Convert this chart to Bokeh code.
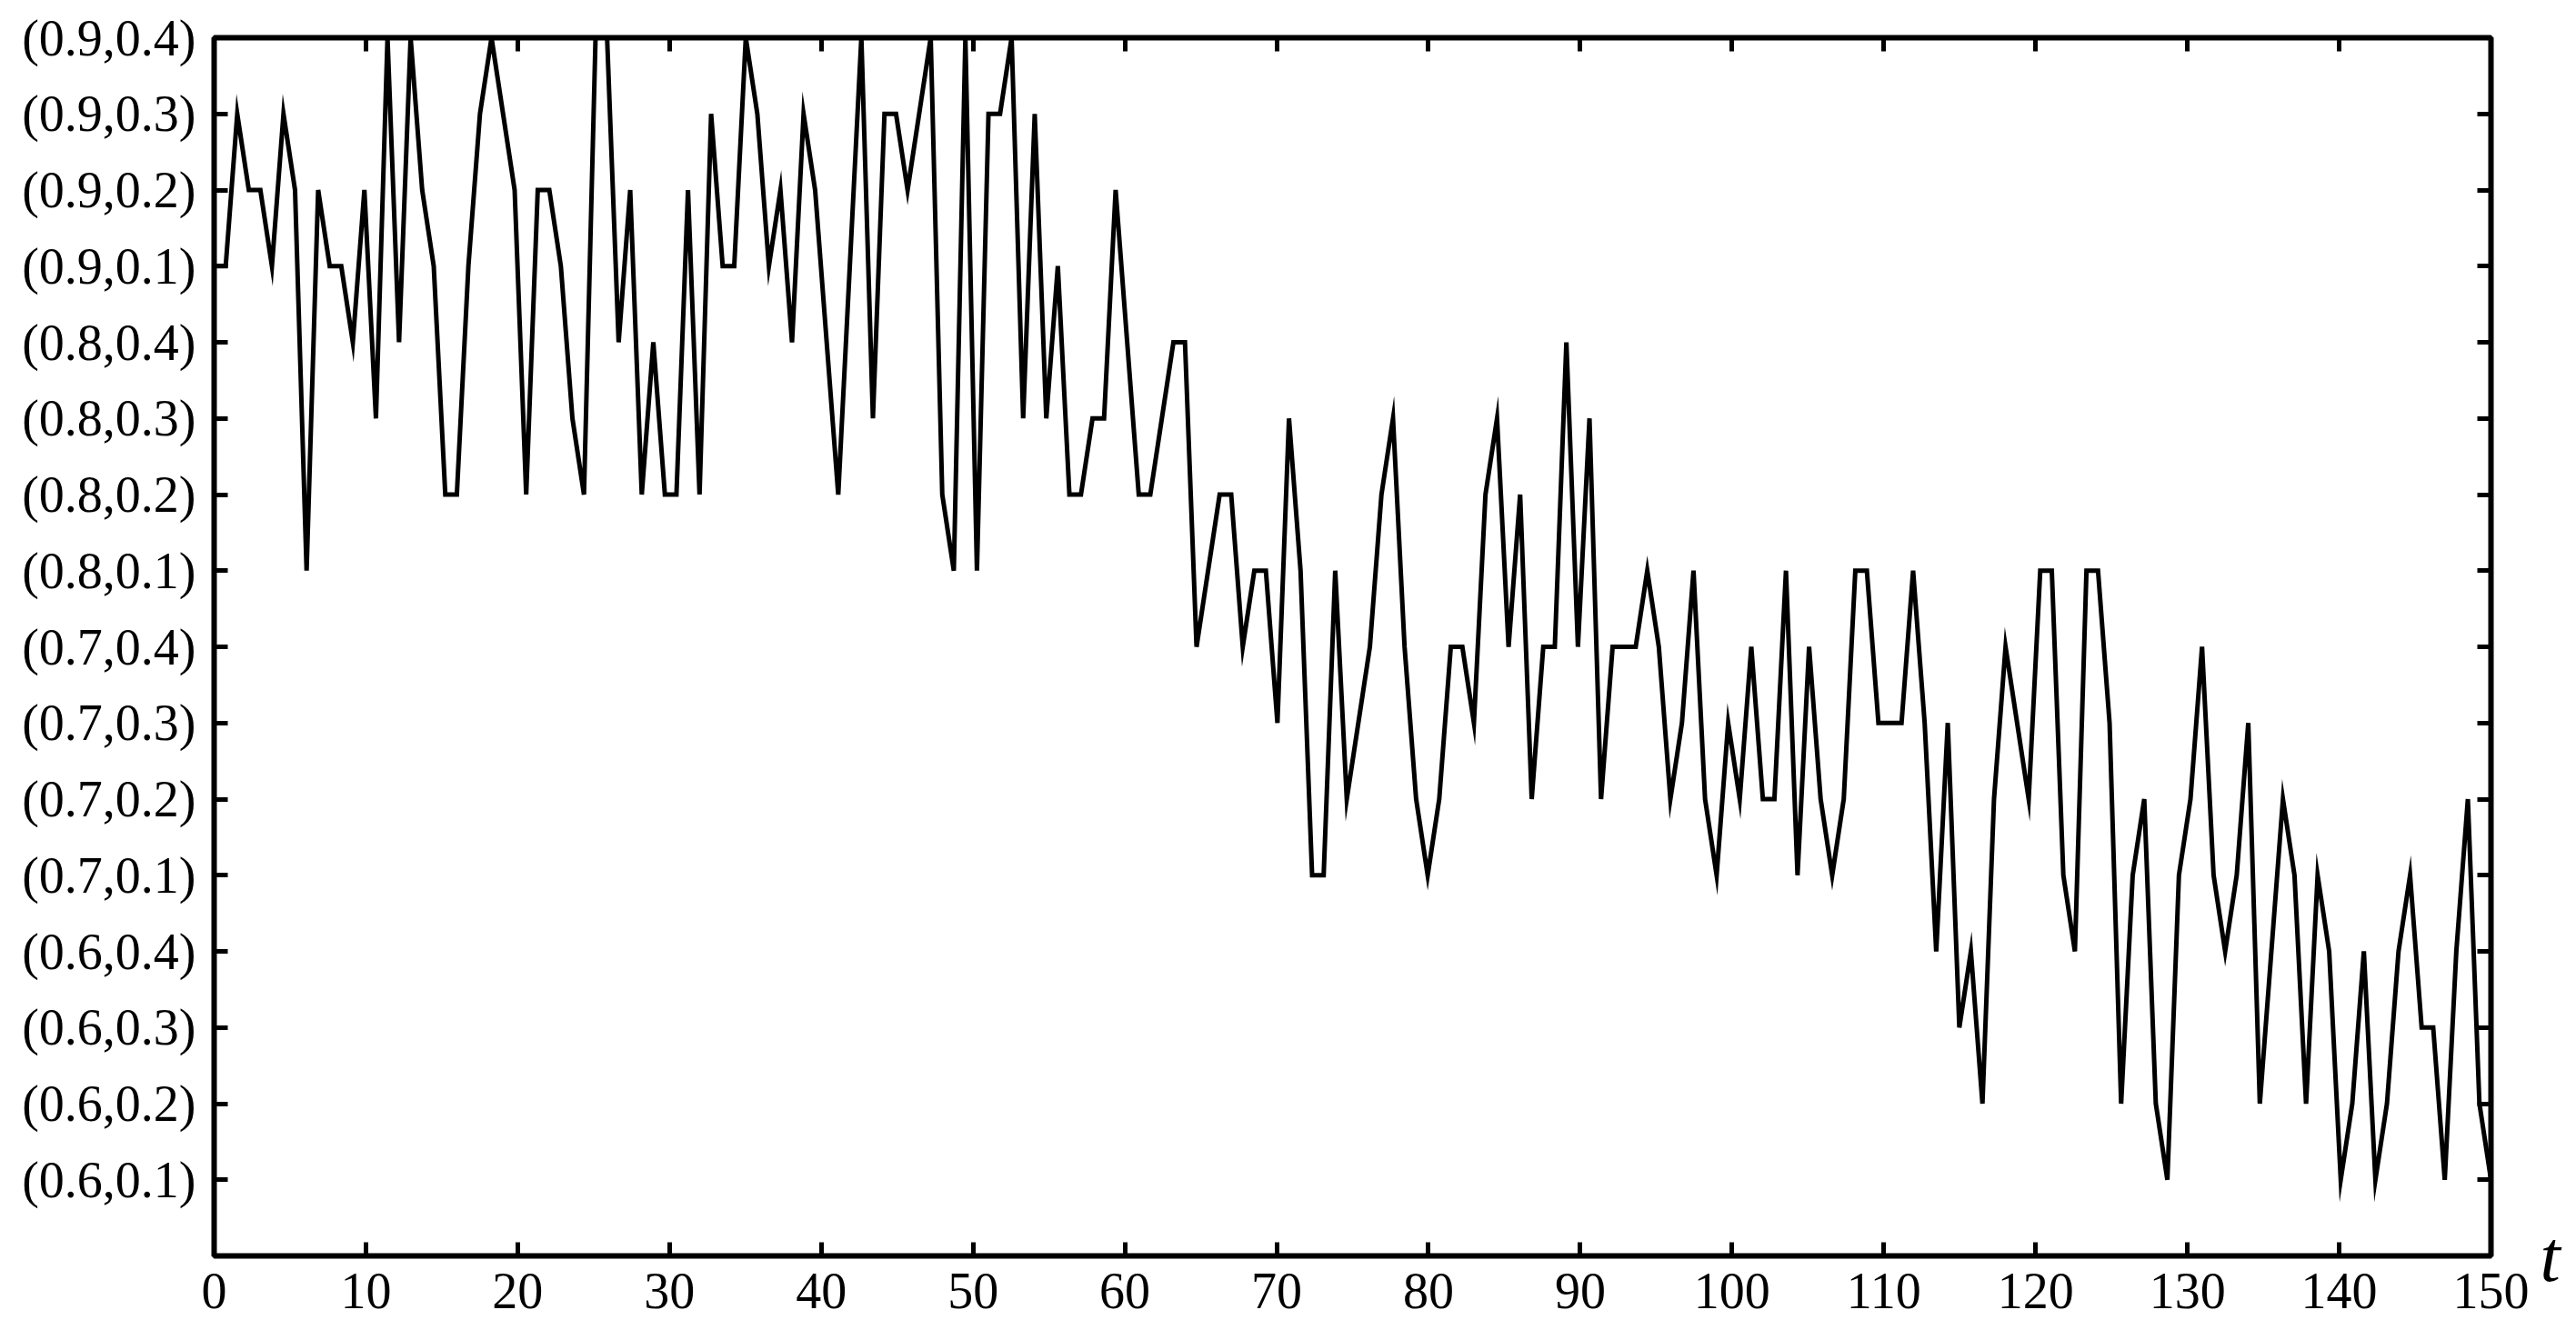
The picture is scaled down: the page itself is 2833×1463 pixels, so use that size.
from bokeh.plotting import figure
from bokeh.models import Range1d, LinearAxis, FixedTicker, ColumnDataSource
from bokeh.embed import file_html
from bokeh.resources import INLINE

# y categories (bottom to top)
state_labels = ["(0.6,0.1)", "(0.6,0.2)", "(0.6,0.3)", "(0.6,0.4)",
                "(0.7,0.1)", "(0.7,0.2)", "(0.7,0.3)", "(0.7,0.4)",
                "(0.8,0.1)", "(0.8,0.2)", "(0.8,0.3)", "(0.8,0.4)",
                "(0.9,0.1)", "(0.9,0.2)", "(0.9,0.3)", "(0.9,0.4)"]

# state index (1 = first label) of each sample
state_index = [
    13, 13, 15, 14, 14, 13, 15, 14, 9, 14, 13, 13, 12, 14, 11, 16, 12, 16, 14, 13,
    10, 10, 13, 15, 16, 15, 14, 10, 14, 14, 13, 11, 10, 16,
    16, 12, 14, 10, 12, 10, 10, 14, 10, 15, 13, 13, 16, 15, 13, 14, 12, 15, 14, 12,
    10, 13, 16, 11, 15, 15, 14, 15, 16, 10, 9, 16, 9,
    15, 15, 16, 11, 15, 11, 13, 10, 10, 11, 11, 14, 12, 10, 10, 11, 12, 12, 8, 9,
    10, 10, 8, 9, 9, 7, 11, 9, 5, 5, 9, 6,
    7, 8, 10, 11, 8, 6, 5, 6, 8, 8, 7, 10, 11, 8, 10, 6, 8, 8, 12, 8,
    11, 6, 8, 8, 8, 9, 8, 6, 7, 9, 6, 5, 7, 6,
    8, 6, 6, 9, 5, 8, 6, 5, 6, 9, 9, 7, 7, 7, 9, 7, 4, 7, 3, 4,
    2, 6, 8, 7, 6, 9, 9, 5, 4, 9, 9, 7, 2,
    5, 6, 2, 1, 5, 6, 8, 5, 4, 5, 7, 2, 4, 6, 5, 2, 5, 4, 1, 2,
    4, 1, 2, 4, 5, 3, 3, 1, 4, 6, 2, 1,
]

t_start, t_end = 0, 150
x_ticks = [0, 10, 20, 30, 40, 50, 60, 70, 80, 90, 100, 110, 120, 130, 140, 150]
y_ticks = list(range(1, len(state_labels) + 1))
x_axis_title = "t"

# evenly spaced sampling instants over [0, 150]
n = len(state_index)
t = [t_start + i * (t_end - t_start) / (n - 1) for i in range(n)]

source = ColumnDataSource(data=dict(t=t, s=state_index))

FONT = "Liberation Serif"

p = figure(width=2825, height=1461, output_backend="svg", toolbar_location=None,
           x_range=Range1d(t_start, t_end), y_range=Range1d(0, len(state_labels)),
           x_axis_location=None, y_axis_location=None,
           min_border_left=235, min_border_right=86, min_border_top=41,
           min_border_bottom=80)
p.xgrid.grid_line_color = None
p.ygrid.grid_line_color = None
p.outline_line_color = "black"
p.outline_line_width = 6
p.outline_line_alpha = 1.0
p.background_fill_color = "white"
p.border_fill_color = "white"


def make_axis(ticks, standoff):
    ax = LinearAxis(ticker=FixedTicker(ticks=ticks))
    ax.axis_line_color = None
    ax.major_tick_in = 15
    ax.major_tick_out = 0
    ax.major_tick_line_width = 5
    ax.major_tick_line_color = "black"
    ax.minor_tick_line_color = None
    ax.major_label_text_font = FONT
    ax.major_label_text_color = "black"
    ax.major_label_text_font_size = "56px"
    ax.major_label_standoff = standoff
    return ax


bottom = make_axis(x_ticks, 19)
left = make_axis(y_ticks, 20)
left.major_label_overrides = {i + 1: lab for i, lab in enumerate(state_labels)}

# top axis: ticks only, no labels
top = make_axis(x_ticks, 0)
top.major_label_text_font_size = "0px"
top.major_label_text_color = None

# right axis: ticks at every level; the only label is the italic "t" at the bottom corner
right = make_axis([0] + y_ticks, 54)
right.major_label_overrides = {0: x_axis_title, **{k: "" for k in y_ticks}}
right.major_label_text_font_style = "italic"
right.major_label_text_font_size = "80px"
right.major_label_orientation = "horizontal"

p.add_layout(bottom, "below")
p.add_layout(top, "above")
p.add_layout(left, "left")
p.add_layout(right, "right")

p.line("t", "s", source=source, line_color="black", line_width=5, line_join="miter")

open("out.html", "w").write(file_html(p, INLINE))
